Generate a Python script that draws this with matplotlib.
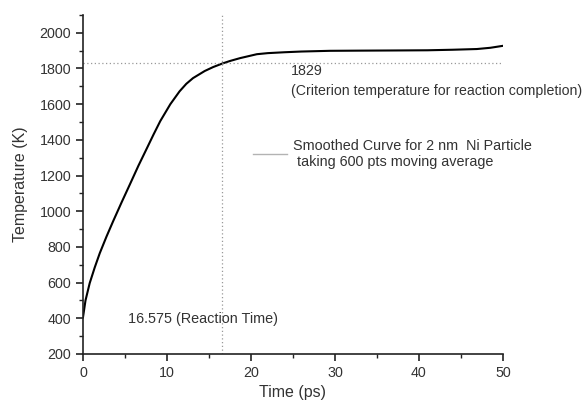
import matplotlib
matplotlib.use('Agg')
import matplotlib.pyplot as plt
from matplotlib.lines import Line2D
from matplotlib.ticker import MultipleLocator

plt.rcParams['font.family'] = ['Liberation Sans', 'DejaVu Sans']

# curva suavizada
time_ps = [0, 0.3, 0.8, 1.4, 2.0, 2.8, 3.6, 4.6, 5.6, 6.6, 7.6, 8.4, 9.2, 10.4,
           11.5, 12.3, 13.1, 14.5, 15.5, 16.6, 17.5, 18.7, 20.7, 22, 24, 26, 29.4,
           33, 37.3, 41, 44, 46.9, 48.5, 50]
temp_k = [405, 500, 597, 685, 765, 858, 945, 1050, 1152, 1255, 1352, 1430, 1505,
          1600, 1672, 1714, 1746, 1786, 1808, 1828, 1842, 1858, 1880, 1886, 1891,
          1895, 1899, 1900, 1901, 1902, 1905, 1909, 1916, 1927]

criterion_temp = 1829
reaction_time = 16.575

xticks = [0, 10, 20, 30, 40, 50]
yticks = [200, 400, 600, 800, 1000, 1200, 1400, 1600, 1800, 2000]

txt = '#333333'

fig = plt.figure(figsize=(5.86, 4.04), dpi=100)
ax = fig.add_axes([0.1416, 0.1238, 0.7167, 0.8392])

ax.plot(time_ps, temp_k, color='black', lw=1.5, solid_joinstyle='round')
ax.axhline(criterion_temp, color='0.6', lw=0.9, ls=(0, (1, 2)))
ax.axvline(reaction_time, color='0.6', lw=0.9, ls=(0, (1, 2)))

ax.set_xlim(0, 50)
ax.set_ylim(200, 2100)
ax.set_xticks(xticks)
ax.set_yticks(yticks)
ax.xaxis.set_minor_locator(MultipleLocator(5))
ax.yaxis.set_minor_locator(MultipleLocator(100))

for s in ['top', 'right']:
    ax.spines[s].set_visible(False)
for s in ['left', 'bottom']:
    ax.spines[s].set_linewidth(1.2)
    ax.spines[s].set_color('#222222')
ax.tick_params(which='major', direction='out', length=5, width=1.2,
               labelsize=10.3, labelcolor=txt, color='#222222')
ax.tick_params(which='minor', direction='out', length=3, width=1.0, color='#222222')

ax.set_xlabel('Time (ps)', fontsize=11.5, color=txt, labelpad=4)
ax.set_ylabel('Temperature (K)', fontsize=11.5, color=txt, labelpad=8)

ax.text(24.8, 1787, '1829', fontsize=10.3, color=txt, va='center')
ax.text(24.8, 1672, '(Criterion temperature for reaction completion)',
        fontsize=10.2, color=txt, va='center')
ax.text(5.4, 398, '16.575 (Reaction Time)', fontsize=10.4, color=txt, va='center')

handle = Line2D([], [], color='0.7', lw=1)
ax.legend([handle], ['Smoothed Curve for 2 nm  Ni Particle\n taking 600 pts moving average'],
          loc='upper left', bbox_to_anchor=(0.392, 0.652), frameon=False,
          fontsize=10.4, handlelength=2.3, handletextpad=0.45, labelcolor=txt,
          borderaxespad=0)

fig.savefig('out.png', dpi=100)
